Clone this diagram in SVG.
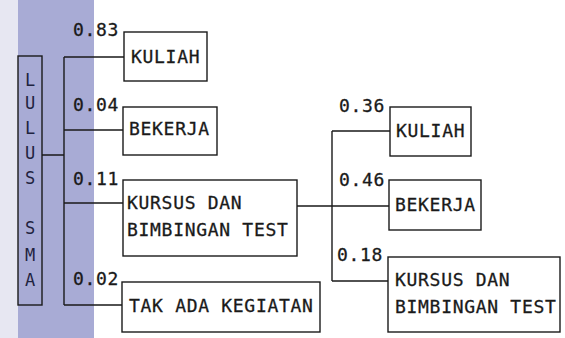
<svg xmlns="http://www.w3.org/2000/svg" width="565" height="338" viewBox="0 0 565 338">
<style>
.t{font-family:"DejaVu Sans Mono","Liberation Mono",monospace;font-size:18px;fill:#1a1a1a;stroke:#1a1a1a;stroke-width:0.3;letter-spacing:0.7px}
.c{font-family:"DejaVu Sans Mono","Liberation Mono",monospace;font-size:17px;fill:#1f2340;text-anchor:middle}
.b{fill:none;stroke:#1a1a1a;stroke-width:1.4}
.l{fill:none;stroke:#1a1a1a;stroke-width:1.4}
</style>
<rect x="0" y="0" width="565" height="338" fill="#ffffff"/>
<rect x="0" y="0" width="18" height="338" fill="#e7e7f2"/>
<rect x="18" y="0" width="76" height="338" fill="#a8abd5"/>
<g id="connectors">
<path class="l" d="M42 155H64M64 57V305M64 57H124M64 130H123M64 203H123M64 305H122"/>
<path class="l" d="M297 206H389M332 131V281M332 131H390M332 281H388"/>
</g>
<g id="lulus-sma">
<rect class="b" x="18" y="56" width="24" height="249"/>
<text class="c" x="30" y="86">L</text>
<text class="c" x="30" y="109">U</text>
<text class="c" x="30" y="134">L</text>
<text class="c" x="30" y="159">U</text>
<text class="c" x="30" y="184">S</text>
<text class="c" x="30" y="234">S</text>
<text class="c" x="30" y="261">M</text>
<text class="c" x="30" y="286">A</text>
</g>
<g id="labels">
<text class="t" x="73" y="36">0.83</text>
<text class="t" x="73" y="111">0.04</text>
<text class="t" x="73" y="185">0.11</text>
<text class="t" x="73" y="285">0.02</text>
<text class="t" x="339" y="112">0.36</text>
<text class="t" x="339" y="186">0.46</text>
<text class="t" x="337" y="261">0.18</text>
</g>
<g id="kuliah-1">
<rect class="b" x="124" y="32" width="83" height="49"/>
<text class="t" x="131" y="63">KULIAH</text>
</g>
<g id="bekerja-1">
<rect class="b" x="123" y="107" width="94" height="48"/>
<text class="t" x="129" y="135">BEKERJA</text>
</g>
<g id="kursus-1">
<rect class="b" x="123" y="180" width="174" height="76"/>
<text class="t" x="127" y="209">KURSUS DAN</text>
<text class="t" x="127" y="236">BIMBINGAN TEST</text>
</g>
<g id="tak-ada">
<rect class="b" x="122" y="282" width="198" height="50"/>
<text class="t" x="129" y="312">TAK ADA KEGIATAN</text>
</g>
<g id="kuliah-2">
<rect class="b" x="390" y="107" width="81" height="49"/>
<text class="t" x="396" y="137">KULIAH</text>
</g>
<g id="bekerja-2">
<rect class="b" x="389" y="180" width="92" height="50"/>
<text class="t" x="395" y="211">BEKERJA</text>
</g>
<g id="kursus-2">
<rect class="b" x="388" y="257" width="172" height="75"/>
<text class="t" x="395" y="286">KURSUS DAN</text>
<text class="t" x="395" y="313">BIMBINGAN TEST</text>
</g>
</svg>
